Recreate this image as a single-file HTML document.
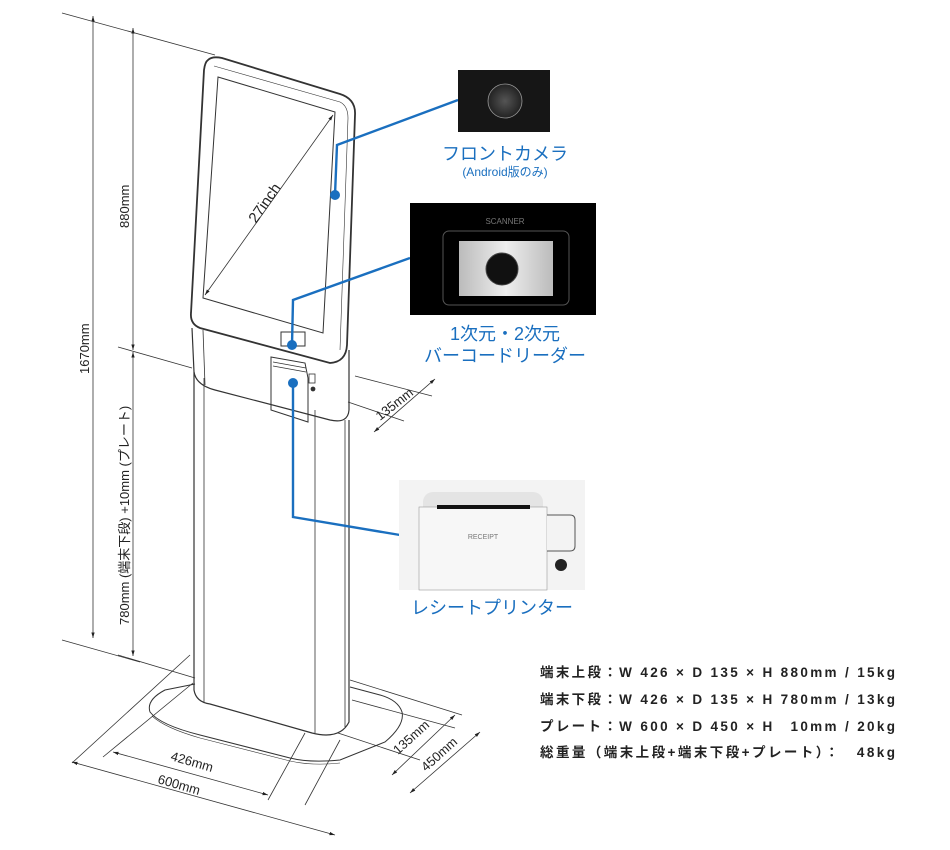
<!DOCTYPE html>
<html><head><meta charset="utf-8"><style>
html,body{margin:0;padding:0;background:#fff;}
svg{display:block;}
text{font-family:"Liberation Sans","Noto Sans CJK JP",sans-serif;}
</style></head><body>
<svg width="950" height="850" viewBox="0 0 950 850" xmlns="http://www.w3.org/2000/svg">
<defs>
<marker id="ar" viewBox="0 0 10 10" refX="10" refY="5" markerWidth="7" markerHeight="7" orient="auto-start-reverse"><path d="M0,2 L10,5 L0,8 z" fill="#222"/></marker>
<radialGradient id="cam" cx="50%" cy="50%" r="50%"><stop offset="0" stop-color="#555"/><stop offset="1" stop-color="#222"/></radialGradient>
<linearGradient id="scn" x1="0" y1="0" x2="1" y2="0"><stop offset="0" stop-color="#bbb"/><stop offset="0.5" stop-color="#eee"/><stop offset="1" stop-color="#bbb"/></linearGradient>
</defs>
<g stroke="#333" stroke-width="0.8" fill="none">
<line x1="62" y1="13" x2="215" y2="55"/>
<line x1="118" y1="347" x2="192" y2="368"/>
<line x1="62" y1="640" x2="140" y2="662"/>
<line x1="118" y1="655" x2="195" y2="678"/>
<line x1="93" y1="16" x2="93" y2="638" marker-start="url(#ar)" marker-end="url(#ar)"/>
<line x1="133" y1="28" x2="133" y2="350" marker-start="url(#ar)" marker-end="url(#ar)"/>
<line x1="133" y1="352" x2="133" y2="656" marker-start="url(#ar)" marker-end="url(#ar)"/>
<line x1="355" y1="376" x2="432" y2="396"/>
<line x1="348" y1="402" x2="404" y2="421"/>
<line x1="374" y1="432" x2="435" y2="379" marker-start="url(#ar)" marker-end="url(#ar)"/>
<line x1="190" y1="655" x2="72" y2="763"/>
<line x1="193" y1="683" x2="103" y2="757"/>
<line x1="113" y1="752" x2="268" y2="795" marker-start="url(#ar)" marker-end="url(#ar)"/>
<line x1="72" y1="762" x2="335" y2="835" marker-start="url(#ar)" marker-end="url(#ar)"/>
<line x1="305" y1="733" x2="268" y2="800"/>
<line x1="340" y1="740" x2="305" y2="805"/>
<line x1="350" y1="680" x2="462" y2="715"/>
<line x1="352" y1="700" x2="455" y2="728"/>
<line x1="338" y1="733" x2="420" y2="760"/>
<line x1="392" y1="775" x2="455" y2="715" marker-start="url(#ar)" marker-end="url(#ar)"/>
<line x1="410" y1="793" x2="480" y2="732" marker-start="url(#ar)" marker-end="url(#ar)"/>
<path d="M195,684 L165,690 Q146,700 150,712 Q160,725 200,735 L290,758 Q310,763 340,760 L385,742 Q405,725 402,712 Q398,700 380,695 L350,687" stroke-width="1"/>
<path d="M152,716 Q165,728 200,738 L290,761 Q312,766 340,763" stroke-width="0.6"/>
<path d="M194,372 L194,690 Q196,702 210,704 L312,733 Q340,740 349,722 L349,420" stroke-width="1.2"/>
<line x1="204" y1="378" x2="204" y2="703"/>
<line x1="315" y1="410" x2="315" y2="733"/>
<line x1="345" y1="420" x2="345" y2="727"/>
<path d="M192,328 L194,372 Q196,385 215,390 L330,420 Q348,424 349,410 L349,350" stroke-width="1.2"/>
<line x1="203" y1="330" x2="205" y2="385"/>
<path d="M208,60 Q212,56 222,58 L340,94 Q356,99 355,115 L347,345 Q346,362 330,363 L200,328 Q190,324 191,313 L204,70 Q205,62 208,60 Z" stroke-width="1.8"/>
<path d="M214,66 L340,102 Q348,106 348,118 L340,350" stroke-width="0.6"/>
<path d="M218,77 L335,112 L323,333 L203,298 Z" stroke-width="1"/>
<line x1="333" y1="115" x2="205" y2="295" marker-start="url(#ar)" marker-end="url(#ar)"/>
<rect x="281" y="332" width="24" height="14" stroke-width="1"/>
<path d="M271,357 L305,363 L308,378 L308,422 L271,410 Z" stroke-width="1"/>
<line x1="273" y1="362" x2="306" y2="368"/>
<line x1="273" y1="366" x2="306" y2="372"/>
<rect x="309" y="374" width="6" height="9"/>
<circle cx="313" cy="389" r="2" fill="#333"/>
</g>
<text font-size="15" fill="#222" transform="translate(256,224) rotate(-55)">27inch</text>
<text font-size="13" fill="#222" transform="translate(129,228) rotate(-90)">880mm</text>
<text font-size="13" fill="#222" transform="translate(89,374) rotate(-90)">1670mm</text>
<text font-size="13" fill="#222" transform="translate(129,625) rotate(-90)">780mm (端末下段) +10mm (プレート)</text>
<text font-size="13" fill="#222" transform="translate(380,421) rotate(-38)">135mm</text>
<text font-size="13" fill="#222" transform="translate(170,760) rotate(16)">426mm</text>
<text font-size="13" fill="#222" transform="translate(157,783) rotate(16)">600mm</text>
<text font-size="13" fill="#222" transform="translate(398,755) rotate(-42)">135mm</text>
<text font-size="13" fill="#222" transform="translate(426,772) rotate(-42)">450mm</text>
<g stroke="#1a6fbf" stroke-width="2.4" fill="none">
<polyline points="335,195 337,145 458,100"/>
<polyline points="292,345 293,300 410,258"/>
<polyline points="293,383 293,517 400,535"/>
</g>
<g fill="#1a6fbf"><circle cx="335" cy="195" r="5"/><circle cx="292" cy="345" r="5"/><circle cx="293" cy="383" r="5"/></g>
<rect x="458" y="70" width="92" height="62" fill="#161616"/>
<circle cx="505" cy="101" r="17" fill="url(#cam)" stroke="#999" stroke-width="0.8"/>
<rect x="410" y="203" width="186" height="112" fill="#000"/>
<text x="505" y="224" font-size="8" fill="#777" text-anchor="middle">SCANNER</text>
<rect x="443" y="231" width="126" height="74" rx="6" fill="none" stroke="#555"/>
<rect x="459" y="241" width="94" height="55" fill="url(#scn)"/>
<circle cx="502" cy="269" r="16" fill="#111" stroke="#444"/>
<rect x="399" y="480" width="186" height="110" fill="#f3f3f3"/>
<rect x="423" y="492" width="120" height="32" rx="10" fill="#e4e4e4"/>
<rect x="419" y="507" width="128" height="83" fill="#f7f7f7" stroke="#999" stroke-width="0.6"/>
<rect x="437" y="505" width="93" height="4" fill="#111"/>
<text x="483" y="539" font-size="7" fill="#777" text-anchor="middle">RECEIPT</text>
<path d="M547,515 L570,515 Q575,515 575,520 L575,546 Q575,551 570,551 L547,551" fill="#f3f3f3" stroke="#555"/>
<circle cx="561" cy="565" r="6" fill="#222"/>
<g fill="#1a6fbf" text-anchor="middle">
<text x="505" y="160" font-size="18">フロントカメラ</text>
<text x="505" y="176" font-size="12">(Android版のみ)</text>
<text x="505" y="340" font-size="18">1次元・2次元</text>
<text x="505" y="362" font-size="18">バーコードリーダー</text>
<text x="492" y="614" font-size="18">レシートプリンター</text>
</g>
<g font-size="13.5" font-weight="bold" fill="#222">
<text x="540" y="677" textLength="355" lengthAdjust="spacing">端末上段：W 426 × D 135 × H 880mm / 15kg</text>
<text x="540" y="704" textLength="355" lengthAdjust="spacing">端末下段：W 426 × D 135 × H 780mm / 13kg</text>
<text x="540" y="731" textLength="355" lengthAdjust="spacing">プレート：W 600 × D 450 × H　10mm / 20kg</text>
<text x="540" y="757" textLength="355" lengthAdjust="spacing">総重量（端末上段+端末下段+プレート）：　48kg</text>
</g>
</svg>
</body></html>
